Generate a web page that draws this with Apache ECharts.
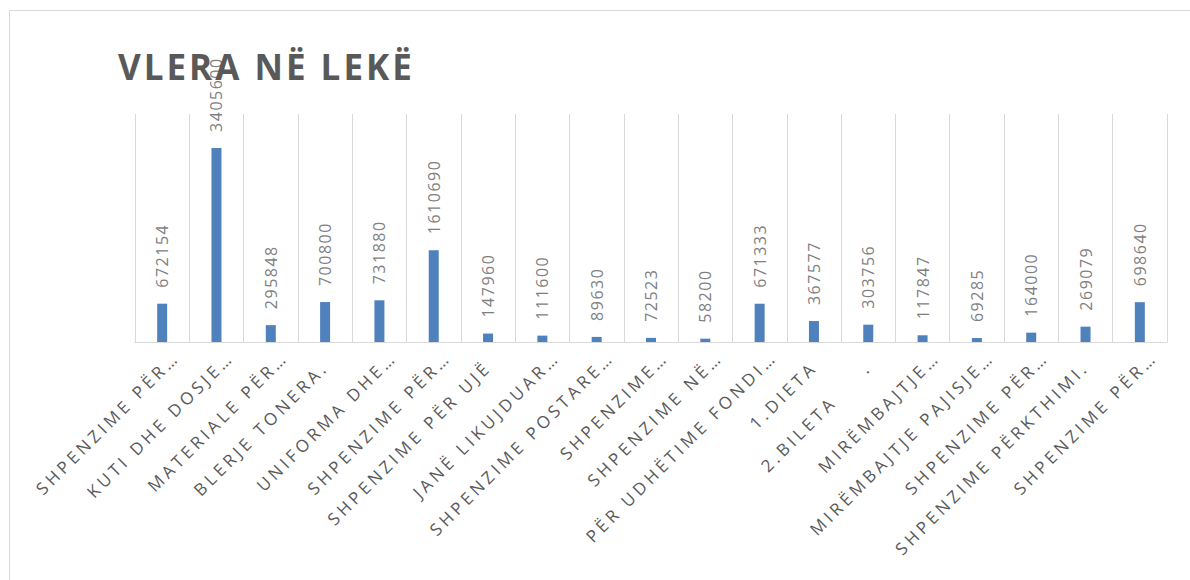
<!DOCTYPE html>
<html>
<head>
<meta charset="utf-8">
<script src="https://cdn.jsdelivr.net/npm/echarts@6/dist/echarts.min.js"></script>
<style>
  html, body { margin: 0; padding: 0; background: #fff; }
  #main { width: 1190px; height: 580px; }
  #main text { white-space: pre; }
</style>
</head>
<body>
<div id="main"></div>
<script>
  // kategorite (etiketat e boshtit x)
  var categories = [
    'SHPENZIME PËR…', 'KUTI DHE DOSJE…', 'MATERIALE PËR…', 'BLERJE TONERA.',
    'UNIFORMA DHE…', 'SHPENZIME PËR…', 'SHPENZIME PËR UJË', 'JANË LIKUJDUAR…',
    'SHPENZIME POSTARE…', 'SHPENZIME…', 'SHPENZIME NË…', 'PËR UDHËTIME FONDI…',
    '1.DIETA', '2.BILETA     .', 'MIRËMBAJTJE…', 'MIRËMBAJTJE PAJISJE…',
    'SHPENZIME PËR…', 'SHPENZIME PËRKTHIMI.', 'SHPENZIME PËR…'
  ];
  // vlera ne leke
  var values = [
    672154, 3405600, 295848, 700800, 731880, 1610690, 147960, 111600, 89630,
    72523, 58200, 671333, 367577, 303756, 117847, 69285, 164000, 269079, 698640
  ];
  var titleText = 'VLERA NË LEKË';

  var myChart = echarts.init(document.getElementById('main'), null, { renderer: 'svg' });

  function isCut(v) {
    return v.charAt(v.length - 1) === '…';
  }

  var option = {
    animation: false,
    backgroundColor: '#fff',
    title: {
      text: titleText,
      left: 113,
      top: 44,
      textStyle: {
        color: '#595959',
        fontFamily: 'Open Sans',
        fontWeight: 'bold',
        fontSize: 35
      }
    },
    graphic: [{
      type: 'rect',
      left: 7,
      top: 8,
      silent: true,
      shape: { width: 1400, height: 800 },
      style: { fill: 'none', stroke: '#d9d9d9', lineWidth: 1 }
    }],
    grid: [
      { left: 135, right: 23, top: 114, bottom: 238 },
      { left: 149, right: 9, top: 114, bottom: 238 }
    ],
    xAxis: [
      {
        type: 'category',
        gridIndex: 0,
        data: categories,
        axisLine: { show: true, lineStyle: { color: '#d9d9d9', width: 1 } },
        axisTick: { show: false },
        splitLine: { show: true, lineStyle: { color: '#d9d9d9', width: 1 } },
        axisLabel: {
          interval: 0,
          rotate: 45,
          margin: 22,
          color: '#595959',
          fontFamily: 'Open Sans',
          fontSize: 17,
          formatter: function (v) { return isCut(v) ? '' : v; }
        }
      },
      {
        // etiketat e shkurtuara, pak me djathtas
        type: 'category',
        gridIndex: 1,
        data: categories,
        axisLine: { show: false },
        axisTick: { show: false },
        splitLine: { show: false },
        axisLabel: {
          interval: 0,
          rotate: 45,
          margin: 12,
          color: '#595959',
          fontFamily: 'Open Sans',
          fontSize: 17,
          formatter: function (v) { return isCut(v) ? v : ''; }
        }
      }
    ],
    yAxis: [
      { type: 'value', gridIndex: 0, min: 0, max: 4000000, show: false },
      { type: 'value', gridIndex: 1, min: 0, max: 4000000, show: false }
    ],
    series: [{
      type: 'bar',
      xAxisIndex: 0,
      yAxisIndex: 0,
      data: values,
      barWidth: 10,
      itemStyle: { color: '#4f81bd' },
      label: {
        show: true,
        position: 'top',
        distance: 16,
        rotate: 90,
        align: 'left',
        verticalAlign: 'middle',
        color: '#7f7f7f',
        fontFamily: 'Open Sans',
        fontSize: 16
      }
    }]
  };

  // hapesira mes shkronjave (si ne Excel)
  function spacing() {
    var texts = document.querySelectorAll('#main text');
    texts.forEach(function (t) {
      var fs = parseFloat(getComputedStyle(t).fontSize);
      if (fs >= 30) t.style.letterSpacing = '3px';
      else if (fs === 16) t.style.letterSpacing = '1.5px';
      else t.style.letterSpacing = '3.8px';
    });
  }
  myChart.on('finished', spacing);
  myChart.setOption(option);
  spacing();
</script>
</body>
</html>
